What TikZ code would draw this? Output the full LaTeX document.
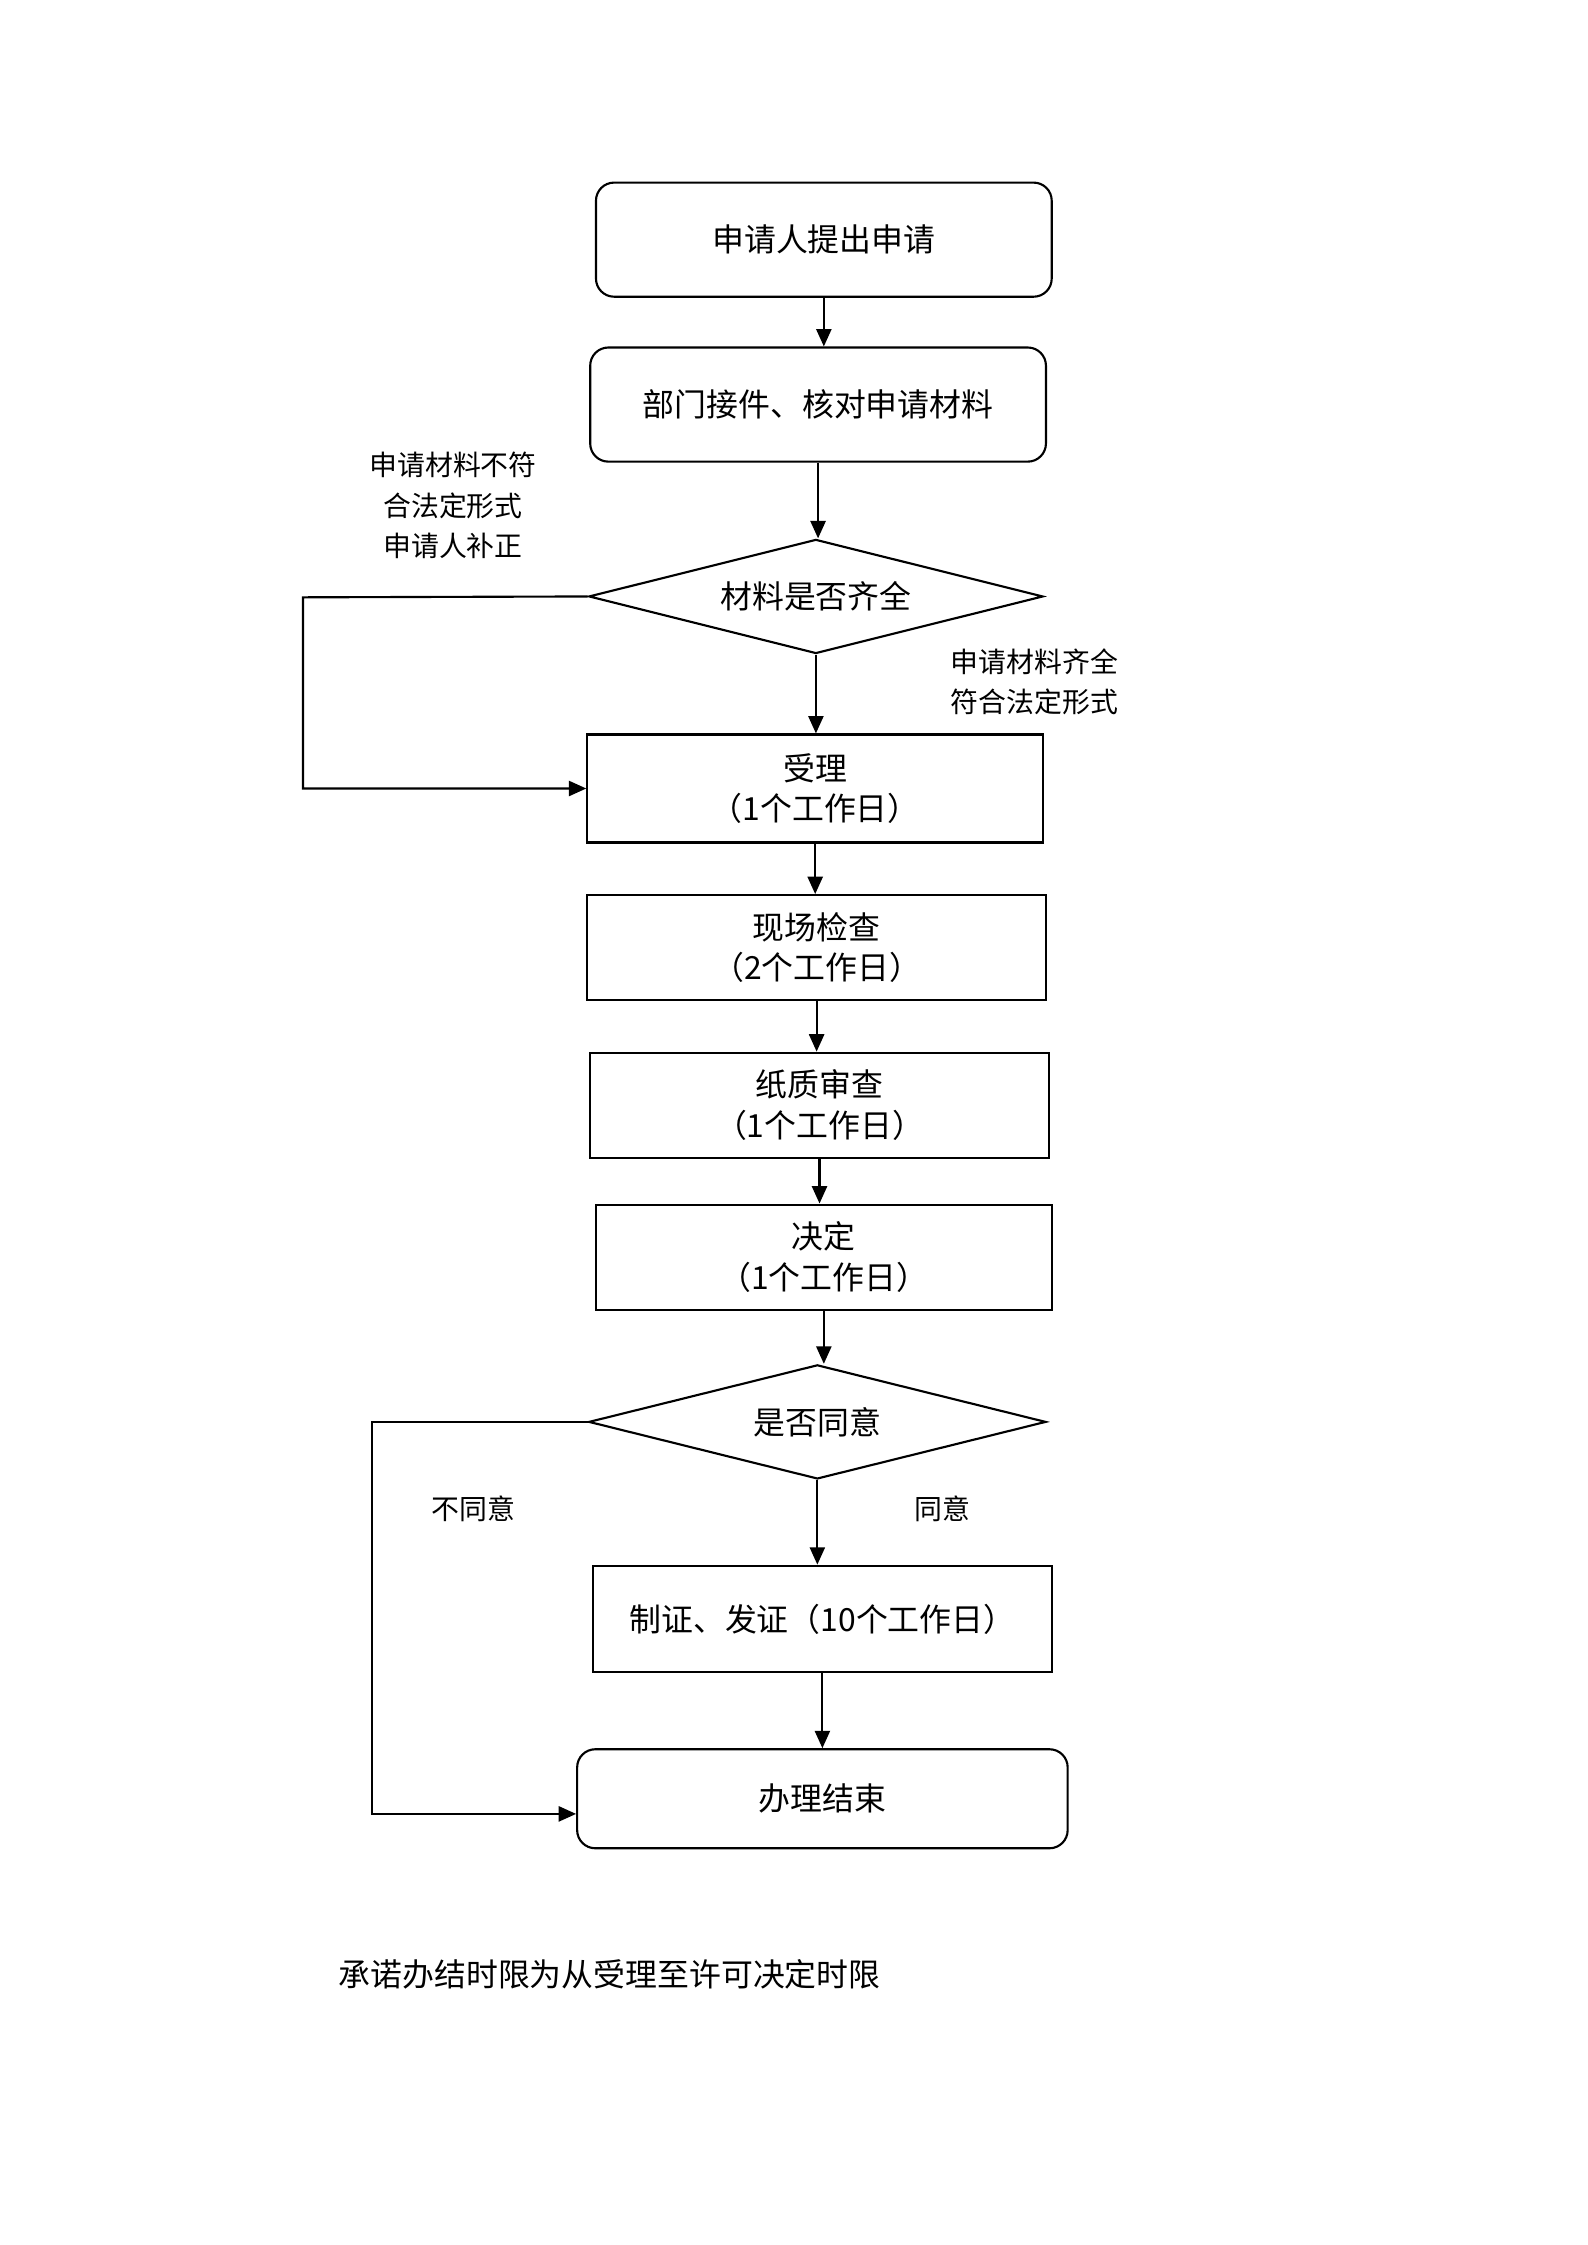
\documentclass[tikz,border=0pt]{standalone}
\usepackage{fontspec}
\newfontfamily\cjkfont{Noto Sans CJK SC}
\usetikzlibrary{shapes.geometric,arrows.meta}

\begin{document}
\begin{tikzpicture}[x=0.1909mm,y=-0.1909mm,line width=0.8pt,
box/.style={draw,rectangle,minimum width=60.3mm,minimum height=14mm,align=center,inner sep=0pt,font=\cjkfont\fontsize{12pt}{15.2pt}\selectfont},
rbox/.style={box,rounded corners=2.4mm},
dec/.style={draw,diamond,aspect=4,minimum width=60.1mm,minimum height=15.1mm,inner sep=0pt,font=\cjkfont\fontsize{12pt}{15.2pt}\selectfont},
lab/.style={align=center,inner sep=0pt,font=\cjkfont\fontsize{10.5pt}{15.2pt}\selectfont},
arr/.style={-{Triangle[length=2.3mm,width=2mm]}}]
\useasboundingbox (0,0) rectangle (1100,1556);
\node[rbox,minimum height=15.1mm] (apply) at (571,166.1) {申请人提出申请};
\node[rbox,minimum height=15.1mm] (check) at (567,280.4) {部门接件、核对申请材料};
\node[dec] (full) at (565.5,413.4) {材料是否齐全};
\node[box,minimum height=14.3mm] (accept) at (565,546.5) {受理\\（1个工作日）};
\node[box,minimum width=60.7mm,minimum height=13.9mm] (site) at (566,656.8) {现场检查\\（2个工作日）};
\node[box,minimum width=60.7mm,minimum height=13.9mm] (paper) at (568,766) {纸质审查\\（1个工作日）};
\node[box,minimum height=13.9mm] (decide) at (571,871.3) {决定\\（1个工作日）};
\node[dec,minimum width=60.5mm] (agree) at (566.5,985.5) {是否同意};
\node[box,minimum width=60.7mm,minimum height=14.1mm] (issue) at (570,1122.1) {制证、发证（10个工作日）};
\node[rbox,minimum width=64.9mm,minimum height=13.1mm] (finish) at (570,1246.7) {办理结束};
\node[lab] (nofit) at (314,350.3) {申请材料不符\\合法定形式\\申请人补正};
\node[lab] (fit) at (717,472.5) {申请材料齐全\\符合法定形式};
\node[lab] (no) at (328,1045.6) {不同意};
\node[lab] (yes) at (653,1045.6) {同意};
\node[anchor=west,inner sep=0pt,font=\cjkfont\fontsize{12pt}{15.2pt}\selectfont] (note) at (234,1368.4) {承诺办结时限为从受理至许可决定时限};
\coordinate (back1) at (210,414);
\coordinate (back2) at (258,985.5);
\coordinate (back3) at (258,1257.2);
\draw[arr] (apply.south) -- (apply.south |- check.north);
\draw[arr] (check.south) -- (check.south |- full.north);
\draw[arr] (full.south) -- (full.south |- accept.north);
\draw[arr] (accept.south) -- (accept.south |- site.north);
\draw[arr] (site.south) -- (site.south |- paper.north);
\draw[arr] (paper.south) -- (paper.south |- decide.north);
\draw[arr] (decide.south) -- (decide.south |- agree.north);
\draw[arr] (agree.south) -- (agree.south |- issue.north);
\draw[arr] (issue.south) -- (issue.south |- finish.north);
\draw[arr] (full.west) -- (back1) |- (accept.west);
\draw[arr] (agree.west) -- (back2) -- (back3) -- (back3 -| finish.west);
\end{tikzpicture}
\end{document}
